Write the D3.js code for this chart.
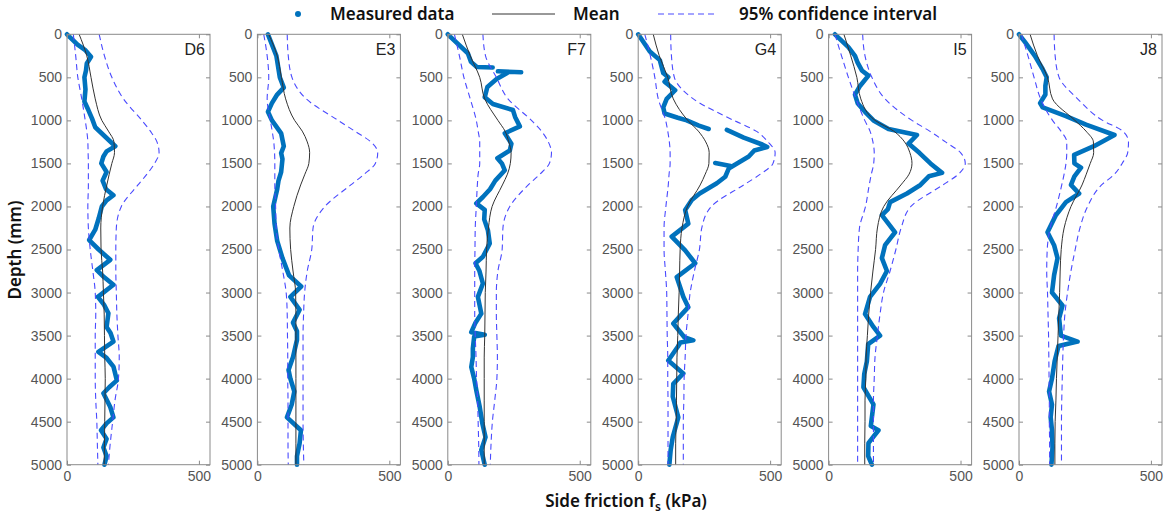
<!DOCTYPE html>
<html>
<head>
<meta charset="utf-8">
<script src="https://cdn.jsdelivr.net/npm/d3@7"></script>
<style>
  body { margin: 0; background: #fff; }
  .tick text { font-family: "Liberation Sans", Arial, sans-serif; font-size: 14px; fill: #555; }
  .tick line { stroke: #8a8a8a; }
  .lbl { font-family: "Noto Sans", sans-serif; font-size: 17px; font-weight: 600; fill: #111; }
</style>
</head>
<body>
<div id="chart"></div>
<script>
// Panels and depth grid used by the mean / CI curves
var panelNames = ["D6", "E3", "F7", "G4", "I5", "J8"];
var depthGrid = [0, 250, 500, 750, 1000, 1125, 1250, 1375, 1500, 1625, 1750, 2000, 2250, 2500, 2750, 3000, 3250, 3500, 3750, 4000, 4250, 4500, 4750, 5000];
var yTicks = [0, 500, 1000, 1500, 2000, 2500, 3000, 3500, 4000, 4500, 5000];
var xTicks = [0, 500];

// D6
var meanD6 = [46, 75, 91, 107, 132, 157, 178, 180, 170, 160, 151, 135, 128, 129, 135, 138, 141, 142, 143, 145, 144, 143, 142, 141];
var lowD6 = [24, 33, 41, 56, 69, 75, 79, 80, 81, 81, 81, 79, 81, 88, 98, 107, 109, 107, 107, 107, 109, 113, 115, 117];
var highD6 = [122, 142, 170, 214, 284, 316, 341, 349, 332, 303, 269, 206, 187, 185, 185, 187, 189, 193, 198, 195, 182, 173, 164, 157];
var measD6 = [[0, 0], [120, 40], [180, 68], [260, 91], [340, 75], [420, 72], [500, 66], [640, 70], [780, 66], [880, 81], [980, 95], [1080, 107], [1190, 145], [1300, 183], [1360, 150], [1420, 138], [1500, 130], [1600, 150], [1700, 135], [1800, 148], [1870, 176], [1930, 150], [2000, 132], [2140, 120], [2270, 107], [2390, 84], [2500, 120], [2620, 164], [2740, 113], [2820, 140], [2910, 176], [3050, 117], [3140, 140], [3240, 157], [3400, 150], [3470, 165], [3570, 176], [3690, 119], [3760, 150], [3860, 176], [4020, 189], [4100, 160], [4170, 138], [4330, 164], [4450, 176], [4520, 150], [4600, 129], [4700, 150], [4800, 138], [4900, 150], [5000, 142]];

// E3
var meanE3 = [43, 75, 91, 107, 141, 170, 189, 198, 195, 180, 164, 138, 123, 126, 135, 145, 146, 146, 146, 146, 146, 146, 146, 146];
var lowE3 = [24, 37, 43, 37, 49, 56, 62, 65, 66, 66, 66, 69, 71, 81, 96, 109, 113, 114, 115, 115, 116, 116, 116, 117];
var highE3 = [113, 117, 131, 185, 306, 369, 430, 456, 447, 405, 354, 256, 211, 206, 189, 179, 175, 173, 173, 173, 173, 173, 174, 176];
var measE3 = [[0, 40], [250, 72], [500, 85], [620, 100], [700, 75], [800, 55], [900, 40], [1000, 55], [1150, 90], [1300, 100], [1380, 90], [1450, 95], [1600, 90], [1700, 80], [1800, 75], [2000, 60], [2200, 65], [2400, 75], [2600, 95], [2800, 120], [2930, 166], [3050, 125], [3200, 160], [3350, 135], [3450, 150], [3550, 150], [3750, 135], [3900, 118], [4000, 125], [4150, 140], [4300, 130], [4450, 112], [4600, 165], [4750, 160], [4900, 150], [5000, 150]];

// F7
var meanF7 = [55, 85, 121, 140, 190, 217, 231, 240, 237, 226, 207, 168, 154, 147, 145, 142, 141, 140, 138, 138, 138, 138, 138, 138];
var lowF7 = [25, 44, 61, 85, 108, 115, 121, 121, 121, 115, 112, 108, 104, 103, 102, 102, 102, 104, 107, 109, 113, 115, 117, 118];
var highF7 = [133, 143, 184, 228, 317, 355, 381, 393, 385, 349, 305, 235, 209, 206, 190, 184, 184, 186, 188, 186, 178, 169, 164, 161];
var measF7 = [[0, 0], [220, 76], [320, 88], [380, 110], [385, 170], [400, null], [430, 190], [440, 278], [445, null], [450, 225], [520, 185], [612, 150], [730, 140], [810, 171], [880, 247], [960, 255], [1070, 273], [1150, 216], [1270, 241], [1350, 235], [1440, 188], [1500, 205], [1580, 216], [1700, 180], [1800, 160], [1890, 133], [1965, 108], [2040, 140], [2150, 138], [2275, 152], [2430, 159], [2585, 133], [2660, 105], [2750, 120], [2895, 133], [3050, 114], [3245, 127], [3350, 105], [3460, 89], [3490, 140], [3510, 100], [3650, 95], [3750, 95], [3865, 89], [4000, 100], [4135, 108], [4330, 121], [4520, 131], [4680, 143], [4830, 127], [5000, 140]];

// G4
var meanG4 = [57, 80, 112, 133, 188, 228, 256, 269, 268, 254, 235, 187, 166, 159, 157, 155, 152, 150, 147, 146, 145, 144, 142, 142];
var lowG4 = [25, 46, 63, 76, 104, 112, 118, 121, 121, 117, 114, 105, 98, 98, 103, 108, 109, 110, 112, 112, 113, 113, 113, 113];
var highG4 = [123, 126, 137, 209, 362, 447, 492, 519, 511, 463, 400, 277, 241, 232, 213, 197, 189, 181, 178, 174, 173, 171, 171, 171];
var measG4 = [[0, 0], [200, 44], [300, 82], [450, 95], [500, 114], [550, 100], [650, 140], [750, 108], [850, 95], [920, 100], [970, 150], [1000, 184], [1060, 230], [1100, 267], [1105, null], [1110, 336], [1200, 400], [1280, 470], [1310, 489], [1350, 440], [1420, 419], [1560, 343], [1655, 330], [1730, 298], [1850, 233], [1925, 203], [2040, 178], [2200, 190], [2350, 127], [2510, 178], [2660, 216], [2820, 146], [3050, 171], [3170, 190], [3360, 133], [3520, 175], [3555, 209], [3580, 160], [3630, 150], [3790, 114], [3940, 171], [4060, 133], [4210, 131], [4450, 152], [4680, 131], [4830, 123], [5000, 118], [5001, null], [1495, 292], [1530, 350]];

// I5
var meanI5 = [58, 84, 107, 122, 176, 247, 288, 308, 316, 305, 274, 209, 185, 178, 168, 159, 152, 147, 142, 141, 138, 138, 137, 137];
var lowI5 = [24, 49, 75, 104, 137, 157, 168, 173, 171, 162, 154, 140, 117, 112, 110, 110, 110, 110, 110, 110, 110, 110, 110, 110];
var highI5 = [129, 138, 164, 214, 316, 383, 443, 500, 518, 492, 433, 312, 275, 255, 233, 208, 195, 185, 176, 173, 170, 170, 170, 170];
var measI5 = [[0, 24], [150, 75], [250, 100], [330, 110], [420, 126], [480, 151], [600, 119], [700, 100], [800, 110], [900, 138], [1000, 170], [1100, 227], [1170, 335], [1270, 303], [1380, 345], [1500, 386], [1610, 430], [1650, 380], [1750, 348], [1850, 297], [1950, 233], [2030, 225], [2100, 202], [2300, 252], [2450, 214], [2600, 202], [2750, 221], [2900, 195], [3050, 157], [3250, 138], [3400, 170], [3500, 195], [3600, 150], [3800, 145], [3950, 135], [4100, 132], [4300, 170], [4550, 160], [4600, 189], [4750, 151], [4900, 150], [5000, 164]];

// J8
var meanJ8 = [42, 70, 108, 127, 212, 254, 282, 283, 270, 255, 239, 197, 171, 160, 156, 154, 151, 148, 145, 142, 140, 137, 136, 136];
var lowJ8 = [9, 34, 57, 82, 127, 159, 181, 181, 178, 171, 162, 142, 118, 107, 105, 108, 110, 112, 113, 114, 115, 115, 116, 116];
var highJ8 = [133, 137, 152, 222, 317, 393, 415, 412, 391, 362, 313, 260, 231, 213, 197, 184, 174, 169, 166, 164, 162, 161, 161, 161];
var measJ8 = [[0, 0], [100, 25], [250, 60], [400, 89], [500, 105], [600, 100], [700, 100], [800, 80], [850, 90], [950, 178], [1050, 254], [1170, 362], [1300, 284], [1400, 209], [1500, 210], [1550, 235], [1650, 210], [1750, 197], [1850, 228], [1950, 178], [2100, 140], [2300, 108], [2450, 133], [2600, 146], [2800, 133], [3000, 125], [3150, 165], [3300, 152], [3500, 159], [3570, 222], [3620, 150], [3800, 135], [4000, 125], [4150, 114], [4300, 125], [4450, 120], [4600, 125], [4800, 127], [5000, 123]];

// table for the loop
var panelData = [
  { name: "D6", mean: meanD6, low: lowD6, high: highD6, meas: measD6 },
  { name: "E3", mean: meanE3, low: lowE3, high: highE3, meas: measE3 },
  { name: "F7", mean: meanF7, low: lowF7, high: highF7, meas: measF7 },
  { name: "G4", mean: meanG4, low: lowG4, high: highG4, meas: measG4 },
  { name: "I5", mean: meanI5, low: lowI5, high: highI5, meas: measI5 },
  { name: "J8", mean: meanJ8, low: lowJ8, high: highJ8, meas: measJ8 }
];

// Layout
var width = 1172, height = 515;
var firstLeft = 67, panelStep = 190.4, panelW = 143;
var plotTop = 34.3, plotBottom = 464.7;

var measColor = "#0072BD";
var ciColor = "#4a4aff";

var svg = d3.select("#chart")
    .append("svg")
    .attr("width", width)
    .attr("height", height);

var x = d3.scaleLinear().domain([0, 542]).range([0, panelW]);
var y = d3.scaleLinear().domain([0, 5000]).range([plotTop, plotBottom]);

panelData.forEach(function(p, i) {
  var g = svg.append("g")
      .attr("transform", `translate(${firstLeft + i * panelStep}, 0)`);

  // smooth curves on the depth grid
  var curve = d3.line()
      .x(function(v) { return x(v); })
      .y(function(v, k) { return y(depthGrid[k]); })
      .curve(d3.curveMonotoneY);

  // measured data (dense dots -> thick line)
  var measLine = d3.line()
      .defined(function(d) { return d[1] !== null; })
      .x(function(d) { return x(d[1]); })
      .y(function(d) { return y(d[0]); });

  g.append("path")
      .attr("d", measLine(p.meas))
      .attr("fill", "none")
      .attr("stroke", measColor)
      .attr("stroke-width", 4.6)
      .attr("stroke-linejoin", "round")
      .attr("stroke-linecap", "round");

  // mean
  g.append("path")
      .attr("d", curve(p.mean))
      .attr("fill", "none")
      .attr("stroke", "#333")
      .attr("stroke-width", 1);

  // 95% CI
  [p.low, p.high].forEach(function(arr) {
    g.append("path")
        .attr("d", curve(arr))
        .attr("fill", "none")
        .attr("stroke", ciColor)
        .attr("stroke-width", 1.1)
        .attr("stroke-dasharray", "6,4");
  });

  // axes, ticks pointing inward
  g.append("g").call(d3.axisLeft(y).tickValues(yTicks).tickSize(-4).tickPadding(5).tickFormat(d3.format("d")))
      .call(function(a) { a.select(".domain").remove(); });
  g.append("g").attr("transform", `translate(${panelW},0)`)
      .call(d3.axisRight(y).tickValues(yTicks).tickSize(-4).tickFormat(""))
      .call(function(a) { a.select(".domain").remove(); });
  g.append("g").attr("transform", `translate(0,${plotBottom})`)
      .call(d3.axisBottom(x).tickValues(xTicks).tickSize(-4).tickPadding(6).tickFormat(d3.format("d")))
      .call(function(a) { a.select(".domain").remove(); });
  g.append("g").attr("transform", `translate(0,${plotTop})`)
      .call(d3.axisTop(x).tickValues(xTicks).tickSize(-4).tickFormat(""))
      .call(function(a) { a.select(".domain").remove(); });

  // box
  g.append("rect")
      .attr("x", 0)
      .attr("y", plotTop)
      .attr("width", panelW)
      .attr("height", plotBottom - plotTop)
      .attr("fill", "none")
      .attr("stroke", "#8a8a8a")
      .attr("stroke-width", 1);

  // panel name
  g.append("text")
      .attr("x", panelW - 5)
      .attr("y", 55)
      .attr("text-anchor", "end")
      .style("font-family", "'Liberation Sans', Arial, sans-serif")
      .style("font-size", "16px")
      .style("fill", "#222")
      .text(p.name);
});

// Legend
var legend = svg.append("g");
legend.append("circle").attr("cx", 298).attr("cy", 14).attr("r", 3).attr("fill", measColor);
legend.append("text").attr("class", "lbl").attr("x", 330).attr("y", 20).text("Measured data");
legend.append("line").attr("x1", 492).attr("x2", 555).attr("y1", 14).attr("y2", 14)
    .attr("stroke", "#333").attr("stroke-width", 1);
legend.append("text").attr("class", "lbl").attr("x", 573).attr("y", 20).text("Mean");
legend.append("line").attr("x1", 658).attr("x2", 717).attr("y1", 14).attr("y2", 14)
    .attr("stroke", ciColor).attr("stroke-width", 1.1).attr("stroke-dasharray", "6,4");
legend.append("text").attr("class", "lbl").attr("x", 739).attr("y", 20).text("95% confidence interval");

// Axis titles
var xTitle = svg.append("text")
    .attr("class", "lbl")
    .attr("x", 626)
    .attr("y", 507)
    .attr("text-anchor", "middle");
xTitle.append("tspan").text("Side friction f");
xTitle.append("tspan").attr("dy", 4).style("font-size", "12px").text("s");
xTitle.append("tspan").attr("dy", -4).text(" (kPa)");

svg.append("text")
    .attr("class", "lbl")
    .attr("transform", "translate(21,250)rotate(-90)")
    .attr("text-anchor", "middle")
    .text("Depth (mm)");
</script>
</body>
</html>
